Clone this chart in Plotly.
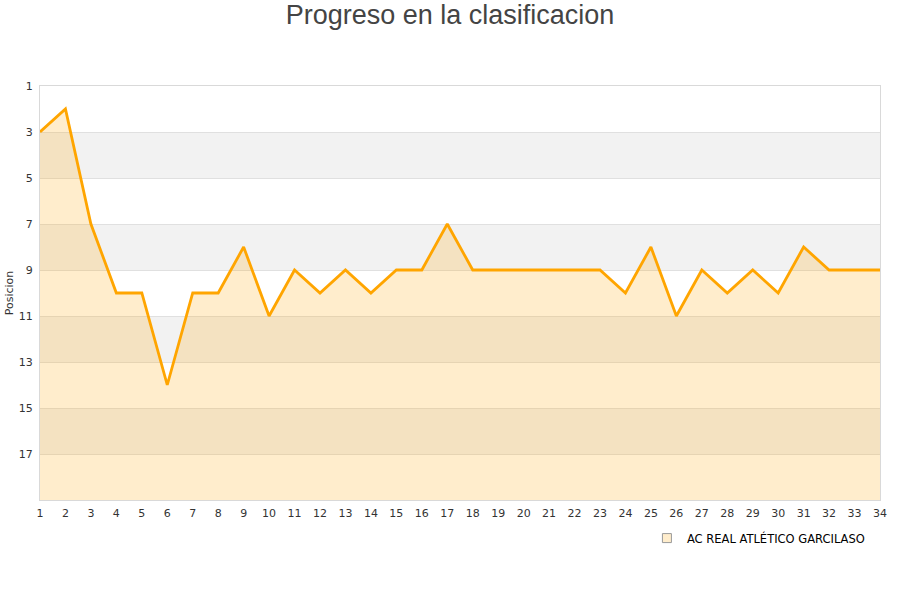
import plotly.graph_objects as go

jornadas = list(range(1, 35))
posiciones = [3, 2, 7, 10, 10, 14, 10, 10, 8, 11, 9, 10, 9, 10, 9, 9, 7, 9, 9, 9,
              9, 9, 9, 10, 8, 11, 9, 10, 9, 10, 8, 9, 9, 9]
y_ticks = [1, 3, 5, 7, 9, 11, 13, 15, 17]
equipo = "AC REAL ATLÉTICO GARCILASO"
fondo_max = 19
bandas = [(3, 5), (7, 9), (11, 13), (15, 17)]

fig = go.Figure()

# baseline for fill
fig.add_trace(go.Scatter(x=jornadas, y=[fondo_max] * len(jornadas), mode="lines",
                         line=dict(width=0), showlegend=False, hoverinfo="skip"))
fig.add_trace(go.Scatter(x=jornadas, y=posiciones, mode="lines",
                         line=dict(color="#FFA500", width=2.8),
                         fill="tonexty", fillcolor="rgba(255,165,0,0.2)",
                         showlegend=False, name=equipo))
# legend entry
fig.add_trace(go.Scatter(x=[None], y=[None], mode="markers", name=equipo,
                         marker=dict(symbol="square", size=9,
                                     color="rgba(255,165,0,0.2)",
                                     line=dict(color="#999999", width=1))))

for a, b in bandas:
    fig.add_shape(type="rect", xref="paper", yref="y", x0=0, x1=1, y0=a, y1=b,
                  fillcolor="#F2F2F2", line=dict(width=0), layer="below")

fig.update_layout(
    width=900, height=600,
    paper_bgcolor="white", plot_bgcolor="white",
    margin=dict(l=40, r=20, t=86, b=100),
    title=dict(text="Progreso en la clasificacion", x=0.5, xanchor="center",
               y=1 - 15 / 600, yanchor="middle",
               font=dict(family="Liberation Sans, Arial, sans-serif", size=27, color="#444444")),
    font=dict(family="DejaVu Sans, Verdana, sans-serif", size=11, color="#333333"),
    legend=dict(orientation="h", x=0.988, xanchor="right", y=-0.092, yanchor="middle",
                itemwidth=30,
                font=dict(size=11.5, color="#000000"), bgcolor="rgba(0,0,0,0)"),
    showlegend=True,
)
fig.update_xaxes(range=[1, 34], tickmode="array", tickvals=jornadas,
                 ticktext=[str(j) for j in jornadas], showgrid=False,
                 showline=True, linecolor="#D9D9D9", mirror=True, zeroline=False,
                 ticks="", ticklabelstandoff=3,
                 tickfont=dict(size=11, color="#333333"), automargin=False)
fig.update_yaxes(range=[fondo_max, 1], tickmode="array", tickvals=y_ticks,
                 ticktext=[str(t) for t in y_ticks], showgrid=True,
                 gridcolor="#E0E0E0", gridwidth=1,
                 showline=True, linecolor="#D9D9D9", mirror=True, zeroline=False,
                 ticks="", ticklen=0, ticklabelstandoff=4,
                 tickfont=dict(size=11, color="#333333"),
                 automargin=False,
                 title=dict(text="Posicion", font=dict(size=11, color="#333333"), standoff=2))

fig.write_html("out.html", config={"displayModeBar": False},
               post_script="document.body.style.margin='0';document.body.style.padding='0';")
